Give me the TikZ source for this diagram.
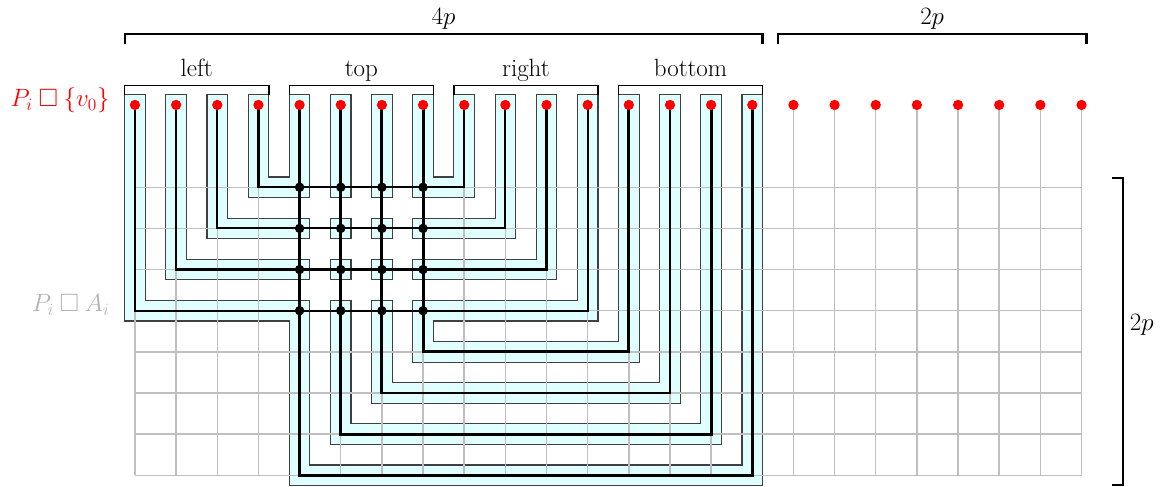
\documentclass[tikz,border=0pt]{standalone}
\usepackage{amsmath}
\usepackage{amssymb}
\definecolor{tubecyan}{RGB}{224,255,255}
\definecolor{gridgray}{RGB}{191,191,191}
\newcommand{\boxprod}{\mathbin{\square}}
\newcommand{\tubeset}[2]{%
  \foreach \a/\b/\r in {3/8/2,2/9/3,1/10/4,0/11/5}{%
    \fill[#2] (\a-#1,-#1) rectangle (\a+#1,\r+#1);
    \fill[#2] (\a-#1,\r-#1) rectangle (4+#1,\r+#1);
    \fill[#2] (7-#1,\r-#1) rectangle (\b+#1,\r+#1);
    \fill[#2] (\b-#1,-#1) rectangle (\b+#1,\r+#1);
  }%
  \foreach \a/\b/\r in {7/12/6,6/13/7,5/14/8,4/15/9}{%
    \fill[#2] (\a-#1,-#1) rectangle (\a+#1,2+#1);
    \fill[#2] (\a-#1,5-#1) rectangle (\a+#1,\r+#1);
    \fill[#2] (\a-#1,\r-#1) rectangle (\b+#1,\r+#1);
    \fill[#2] (\b-#1,-#1) rectangle (\b+#1,\r+#1);
  }%
  \foreach \a in {5,6} \foreach \r in {3,4} \fill[#2] (\a-#1,\r-#1) rectangle (\a+#1,\r+#1);
}
\tikzset{
  gridline/.style={draw=gridgray, line width=1pt},
  wire/.style={line width=1.5pt, line join=miter},
  wire heavy/.style={line width=2pt, line join=miter},
  junction/.style={circle, fill=black, inner sep=0pt, minimum size=0.23cm},
  reddot/.style={circle, fill=red, inner sep=0pt, minimum size=0.25cm},
  bracket/.style={line width=1.6pt, line join=miter},
  small bracket/.style={line width=1.1pt, line join=miter},
  lbl/.style={anchor=base, inner sep=0pt, font=\LARGE}
}

\begin{document}
\begin{tikzpicture}[x=1cm,y=-1cm]
\useasboundingbox (-3.28,-2.55) rectangle (24.98,9.26);
\foreach \i in {0,...,23} \coordinate (c\i) at (\i,0);
\foreach \j in {2,...,9} \coordinate (r\j) at (0,\j);
\tubeset{0.2635}{black!75}
\tubeset{0.2365}{tubecyan}
\foreach \i in {0,...,23} \draw[gridline] (c\i) -- (c\i |- r9);
\foreach \j in {2,...,9} \draw[gridline] (r\j) -- (c23 |- r\j);
\foreach \a/\b/\r in {3/8/2,2/9/3,1/10/4,0/11/5} \draw[wire] (c\a) -- (c\a |- r\r) -- (c\b |- r\r) -- (c\b);
\foreach \a/\b/\r in {7/12/6,6/13/7,5/14/8,4/15/9} \draw[wire heavy] (c\a) -- (c\a |- r\r) -- (c\b |- r\r) -- (c\b);
\foreach \a in {4,...,7} \foreach \r in {2,...,5} \node[junction] (j\a\r) at (c\a |- r\r) {};
\foreach \i in {0,...,23} \node[reddot] (v\i) at (c\i) {};
\draw[bracket] (-0.25,-1.48) |- (15.25,-1.73) -- (15.25,-1.48);
\draw[bracket] (15.62,-1.48) |- (23.12,-1.73) -- (23.12,-1.48);
\draw[bracket] (23.75,1.77) -| (24,9.23) -- (23.75,9.23);
\foreach \s in {0,4,8,12} \draw[small bracket] (\s-0.25,-0.25) |- (\s+3.25,-0.47) -- (\s+3.25,-0.25);
\node[lbl] (fourp) at (7.5,-1.95) {$4p$};
\node[lbl] (twop) at (19.37,-1.95) {$2p$};
\node[lbl, anchor=base west] (twoprow) at (24.17,5.47) {$2p$};
\node[lbl] (lblleft) at (1.5,-0.68) {left};
\node[lbl] (lbltop) at (5.5,-0.68) {top};
\node[lbl] (lblright) at (9.5,-0.68) {right};
\node[lbl] (lblbottom) at (13.5,-0.68) {bottom};
\node[lbl, anchor=base east, text=red] (lblv) at (-0.61,0.05) {$P_i \boxprod \{v_0\}$};
\node[lbl, anchor=base east, text=black!30] (lbla) at (-0.61,5.03) {$P_i \boxprod A_i$};
\end{tikzpicture}
\end{document}
